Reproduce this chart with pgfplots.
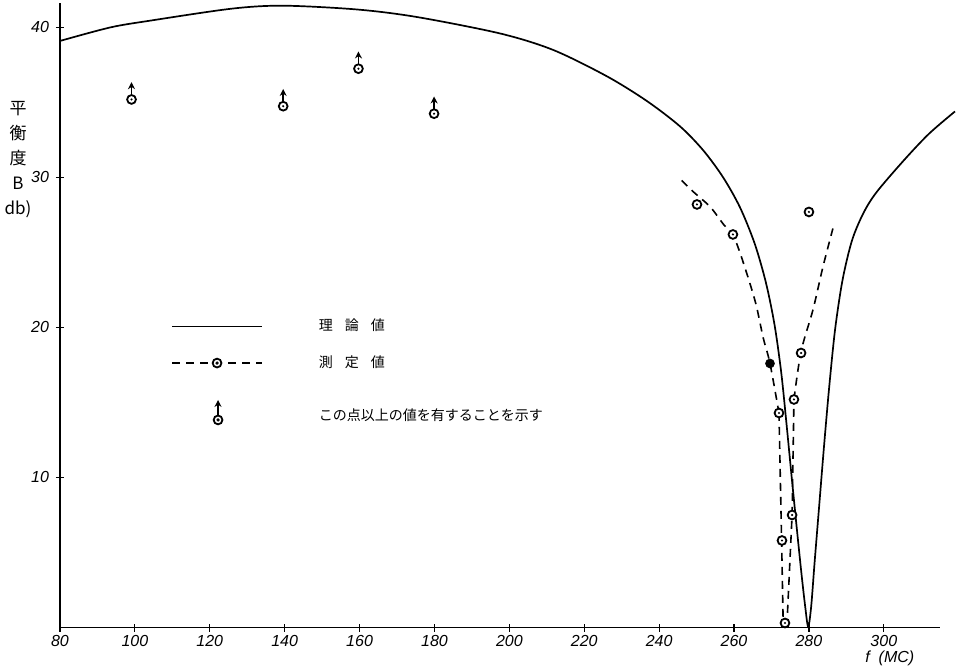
\documentclass[border=0pt]{standalone}
\usepackage{fontspec}
\setmainfont{Liberation Sans}
\newfontfamily\cjk{Noto Sans CJK JP}
\usepackage{pgfplots}
\pgfplotsset{compat=1.18}
\usetikzlibrary{arrows.meta}

% circle with a dot in the centre, used for the measured values
\pgfdeclareplotmark{odot}{%
  \pgfpathcircle{\pgfpointorigin}{\pgfplotmarksize}\pgfusepathqfillstroke
  \begin{pgfscope}%
    \pgfsetfillcolor{black}%
    \pgfpathcircle{\pgfpointorigin}{0.6pt}\pgfusepathqfill
  \end{pgfscope}}

\begin{document}
\begin{tikzpicture}
\begin{axis}[
  scale only axis, width=440pt, height=312.25pt,
  xmin=80, xmax=315, ymin=0, ymax=41.63,
  axis lines=left, axis line style={-, line width=0.8pt},
  clip=false,
  xtick={80,100,...,300}, ytick={10,20,30,40},
  tick style={black, line width=0.6pt}, major tick length=4pt,
  tick label style={font=\itshape\fontsize{8}{9}\selectfont},
  xticklabel style={yshift=1.5pt},
  /pgf/number format/assume math mode=true,
  legend cell align=left,
  legend style={draw=none, fill=none, at={(axis cs:108,21.13)}, anchor=north west,
    column sep=26pt, row sep=7pt, font=\cjk\fontsize{7}{8}\selectfont},
]
\coordinate (o) at (axis cs:80,0);

% theoretical balance
\addplot[forget plot, black, line width=0.85pt, smooth, tension=0.5] coordinates {
  (80,39.1) (93.4,40.0) (104,40.45) (125.8,41.25) (139.6,41.45) (159.2,41.2)
  (175.2,40.7) (197.5,39.6) (211.7,38.5) (226,36.75) (236.7,35.1) (245.6,33.4)
  (251.8,31.8) (257.1,30.0) (261.6,28.0) (265.5,25.6) (268.5,23.0) (270.8,20.2)
  (272.6,17.0) (274.0,13.6) (275.4,10.0) (276.8,6.5) (278.0,3.6) (279.0,1.4)
  (279.8,0.05) (280.6,1.4) (281.5,4.3) (282.7,8.0) (284.0,12.0) (285.4,16.0)
  (287.0,19.9) (289.0,23.2) (291.5,25.8) (294.5,27.6) (298,29.0) (305.2,31.1)
  (312,32.9) (319,34.4)
};

% fitted curve through the measurements
\addplot[forget plot, black, line width=0.8pt, dash pattern=on 4pt off 3pt, smooth, tension=0.5] coordinates {
  (246,29.8) (249.1,29.05) (253.6,28.05) (257.1,26.9) (259.8,26.1) (261.6,24.97)
  (264.2,22.97) (266,21.4) (267.8,19.3) (269.6,17.6) (272,14.3)
};
\addplot[forget plot, black, line width=0.8pt, dash pattern=on 4pt off 3pt] coordinates {
  (272,14.3) (272.7,5.8) (273.1,0.6) (273.65,0.2) (274.2,0.6) (275.5,7.5) (276.0,15.2)
};
\addplot[forget plot, black, line width=0.8pt, dash pattern=on 4pt off 3pt, smooth, tension=0.5] coordinates {
  (276.0,15.2) (277.9,18.4) (281.1,21.2) (283.7,24.0) (286.4,26.6)
};

% measured values
\addplot[forget plot, only marks, mark=odot, mark size=2.2pt,
  mark options={draw=black, fill=white, line width=0.9pt}] coordinates {
  (99.1,35.2) (139.6,34.75) (159.7,37.25) (179.9,34.25)
  (250.1,28.2) (259.7,26.2) (272.0,14.3) (272.8,5.8) (273.6,0.3)
  (275.5,7.5) (276.0,15.2) (277.9,18.3) (280.0,27.7)
};
\addplot[forget plot, only marks, mark=*, mark size=2.2pt, black] coordinates {(269.6,17.6)};

% values at least this large
\addplot[forget plot, black, line width=0.8pt, -{Stealth[length=3.5pt,width=3.5pt]},
  quiver={u=0,v=0.85}] coordinates {
  (99.1,35.5) (139.6,35.05) (159.7,37.55) (179.9,34.55)
};

\addlegendimage{legend image code/.code={\draw[line width=0.8pt] (0pt,0pt) -- (45pt,0pt);}}
\addlegendentry{理\hspace{6pt}論\hspace{6pt}値}
\addlegendimage{legend image code/.code={%
  \draw[line width=0.8pt, dash pattern=on 4pt off 3pt] (0pt,0pt) -- (45pt,0pt);
  \draw[line width=0.9pt, fill=white] (22.5pt,0pt) circle (2.2pt);
  \fill (22.5pt,0pt) circle (0.6pt);}}
\addlegendentry{測\hspace{6pt}定\hspace{6pt}値}
\addlegendimage{legend image code/.code={%
  \draw[white] (0pt,0pt) -- (45pt,0pt);
  \draw[line width=0.8pt, -{Stealth[length=3.5pt,width=3.5pt]}] (23pt,-10.8pt) -- (23pt,-3pt);
  \draw[line width=0.9pt, fill=white] (23pt,-13pt) circle (2.2pt);
  \fill (23pt,-13pt) circle (0.6pt);}}
\addlegendentry{\raisebox{-14pt}{この点以上の値を有することを示す}}

% axis titles
\node[font=\cjk\fontsize{8.5}{12.5}\selectfont, align=center] at (axis cs:68.8,31.2)
  {平\\衡\\度\\B\\db)};
\node[font=\itshape\fontsize{8}{9}\selectfont] at (axis cs:301.6,-2.07) {f \ (MC)};
\end{axis}
\pgfresetboundingbox
\path[use as bounding box] ([shift={(-30pt,-20.75pt)}]o) rectangle ([shift={(449pt,313.75pt)}]o);
\end{tikzpicture}
\end{document}
